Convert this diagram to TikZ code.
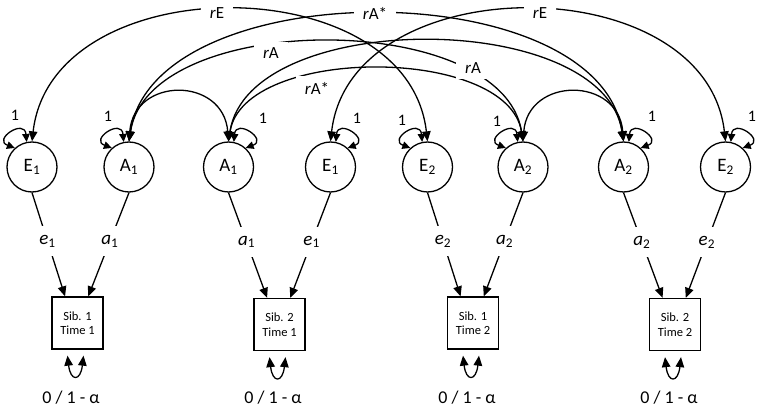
\documentclass[tikz,border=0pt]{standalone}
\usepackage{fontspec}
\setmainfont{Carlito}
\usetikzlibrary{arrows.meta}
\begin{document}
\begin{tikzpicture}[x=1pt,y=1pt,line width=1.3pt,
  lat/.style={circle,draw,minimum size=50pt,inner sep=0pt,font=\fontsize{19}{22}\selectfont},
  obs/.style={rectangle,draw,minimum width=51pt,minimum height=52pt,inner sep=0pt,align=center,font=\fontsize{12.5}{14.5}\selectfont},
  cov/.style={{Triangle[length=10pt,width=8.5pt]}-{Triangle[length=10pt,width=8.5pt]}},
  load/.style={-{Triangle[length=10pt,width=8.5pt]}},
  sloop/.style={{Triangle[length=8pt,width=7.5pt]}-{Triangle[length=8pt,width=7.5pt]}},
  vloop/.style={{Triangle[length=10pt,width=8.5pt]}-{Triangle[length=10pt,width=8.5pt]}},
  clab/.style={fill=white,inner xsep=9pt,inner ysep=6pt,font=\fontsize{17}{20}\selectfont},
  elab/.style={fill=white,inner xsep=6pt,inner ysep=9pt,font=\fontsize{19}{22}\selectfont\itshape},
  one/.style={font=\fontsize{16}{18}\selectfont},
  bot/.style={font=\fontsize{18}{20}\selectfont}
]
\useasboundingbox (0,0) rectangle (762,-411);

% latent variables
\node[lat] (E1a) at (32,-167) {E\textsubscript{1}};
\node[lat] (A1a) at (129,-167) {A\textsubscript{1}};
\node[lat] (A1b) at (228.5,-167) {A\textsubscript{1}};
\node[lat] (E1b) at (330.5,-167) {E\textsubscript{1}};
\node[lat] (E2a) at (427.5,-167) {E\textsubscript{2}};
\node[lat] (A2a) at (523,-167) {A\textsubscript{2}};
\node[lat] (A2b) at (623.5,-167) {A\textsubscript{2}};
\node[lat] (E2b) at (725.5,-167) {E\textsubscript{2}};

% observed variables
\node[obs] (S11) at (77.5,-323) {Sib. 1\\Time 1};
\node[obs] (S21) at (279.5,-324.5) {Sib. 2\\Time 1};
\node[obs] (S12) at (473,-323) {Sib. 1\\Time 2};
\node[obs] (S22) at (675,-324.5) {Sib. 2\\Time 2};

% covariances
\draw[cov] (E1a.north) .. controls +(20,175) and +(-20,175) .. (E2a.north);
\draw[cov] (E1b.north) .. controls +(20,175) and +(-20,175) .. (E2b.north);
\draw[cov] (A1a.north) .. controls +(25,169) and +(-25,169) .. (A2b.north);
\draw[cov] (A1a.north) .. controls +(20,132) and +(-20,132) .. (A2a.north);
\draw[cov] (A1b.north) .. controls +(20,133) and +(-20,133) .. (A2b.north);
\draw[cov] (A1b.north) .. controls +(15,96) and +(-15,96) .. (A2a.north);
\draw[cov] (A1a.north) .. controls +(5,65) and +(-5,65) .. (A1b.north);
\draw[cov] (A2a.north) .. controls +(5,65) and +(-5,65) .. (A2b.north);

\node[clab] (lrE1) at (217,-13) {{\itshape r}E};
\node[clab] (lrE2) at (540,-13) {{\itshape r}E};
\node[clab] (lrAs1) at (375,-13) {{\itshape r}A*};
\node[clab] (lrA1) at (271,-53) {{\itshape r}A};
\node[clab] (lrA2) at (473,-68) {{\itshape r}A};
\node[clab] (lrAs2) at (317,-88) {{\itshape r}A*};

% self loops of latent variables
\foreach \n in {E1a,A1a,E2a,A2a}{
  \draw[sloop] (\n.102) .. controls +(95:24) and +(160:24) .. (\n.132);
}
\foreach \n in {A1b,E1b,A2b,E2b}{
  \draw[sloop] (\n.78) .. controls +(85:24) and +(20:24) .. (\n.48);
}
\node[one] (o1) at (15,-115) {1};
\node[one] (o2) at (108,-116) {1};
\node[one] (o3) at (263,-118) {1};
\node[one] (o4) at (357,-118) {1};
\node[one] (o5) at (402,-120) {1};
\node[one] (o6) at (497,-121) {1};
\node[one] (o7) at (652,-116) {1};
\node[one] (o8) at (752,-116) {1};

% loadings
\draw[load] (E1a.south) -- node[elab,pos=0.47] (le1a) {e\textsubscript{\upshape 1}} (S11.115);
\draw[load] (A1a.south) -- node[elab,pos=0.47] (la1a) {a\textsubscript{\upshape 1}} (S11.68);
\draw[load] (A1b.south) -- node[elab,pos=0.47] (la1b) {a\textsubscript{\upshape 1}} (S21.115);
\draw[load] (E1b.south) -- node[elab,pos=0.47] (le1b) {e\textsubscript{\upshape 1}} (S21.68);
\draw[load] (E2a.south) -- node[elab,pos=0.47] (le2a) {e\textsubscript{\upshape 2}} (S12.115);
\draw[load] (A2a.south) -- node[elab,pos=0.47] (la2a) {a\textsubscript{\upshape 2}} (S12.68);
\draw[load] (A2b.south) -- node[elab,pos=0.47] (la2b) {a\textsubscript{\upshape 2}} (S22.115);
\draw[load] (E2b.south) -- node[elab,pos=0.47] (le2b) {e\textsubscript{\upshape 2}} (S22.68);

% residual variances
\foreach \n in {S11,S21,S12,S22}{
  \draw[vloop] ([xshift=-10pt,yshift=-6pt]\n.south) .. controls +(3,-26) and +(-3,-26) .. ([xshift=6pt,yshift=-6pt]\n.south);
}
\node[bot] (v11) at (71,-398) {0 / 1 - α};
\node[bot] (v21) at (273,-398) {0 / 1 - α};
\node[bot] (v12) at (467,-398) {0 / 1 - α};
\node[bot] (v22) at (669,-398) {0 / 1 - α};
\end{tikzpicture}
\end{document}
